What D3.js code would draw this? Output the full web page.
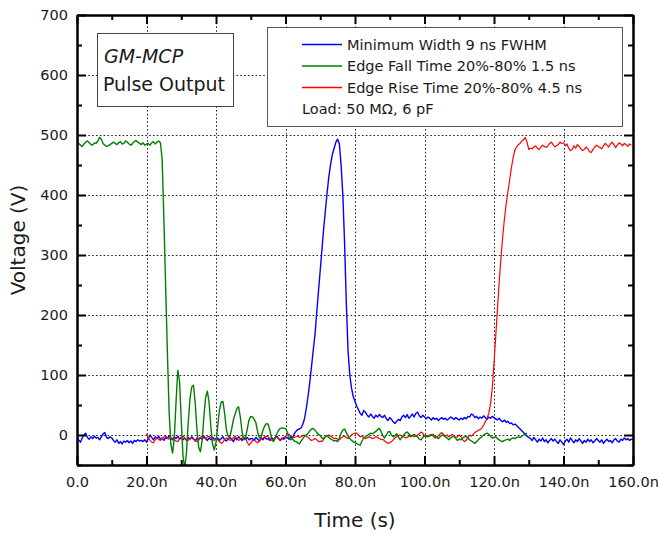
<!DOCTYPE html>
<html>
<head>
<meta charset="utf-8">
<script src="https://cdn.jsdelivr.net/npm/d3@7"></script>
<style>
  html, body { margin: 0; padding: 0; background: #fff; }
  svg { display: block; }
  text { font-family: "DejaVu Sans", Verdana, sans-serif; fill: #1a1a1a; }
</style>
</head>
<body>
<svg id="chart" width="658" height="534"></svg>
<script>
// ---------------- DATA ----------------
// Sample interval of the scope traces: 0.5 ns. Each row = one 10 ns block
// (first row includes its start sample, following rows start at +0.5 ns).
const sampleStepNs = 0.5;

const blueStartNs = 0;
const blueRows = [
  [-3,-8,-12,-5,0,3,-4,-7,-3,-6,-2,-5,-4,-8,-3,2,4,-4,-6,-3,-5],
  [-9,-12,-8,-14,-11,-15,-10,-12,-9,-13,-10,-14,-9,-11,-8,-10,-9,-11,-8,-12],
  [-6,0,-4,-8,-3,-6,-2,-7,-5,-9,-4,-6,-1,-5,-8,-3,-6,-2,-7,-4],
  [-8,-5,-9,-4,-7,-3,-6,-10,-5,-8,-4,-7,-2,-6,-9,-5,-8,-4,-6,-7],
  [-5,-9,-6,-3,-8,-10,-6,-4,-7,-11,-5,-8,-3,-6,-9,-5,-7,-4,-8,-6],
  [-6,-9,-4,-7,-10,-5,-8,-3,-7,-6,-9,-4,-8,-5,-2,-6,-9,-5,-7,-4],
  [-4,-7,-3,-5,2,6,9,10,12,18,28,45,65,88,115,142,168,205,240,275],
  [310,345,375,405,432,452,468,478,488,493,485,450,400,320,220,140,100,78,64,56],
  [48,42,36,33,41,38,33,30,35,31,28,33,30,34,31,29,33,27,24,29],
  [26,22,19,23,26,24,30,33,29,34,28,31,35,30,36,38,32,29,33,30],
  [27,30,28,25,29,26,28,24,27,29,26,28,25,27,30,28,26,29,27,25],
  [28,26,29,27,31,30,35,33,29,31,27,30,28,32,29,26,30,28,31,29],
  [27,25,28,24,22,25,21,23,19,20,17,18,16,13,10,7,4,1,-2,-4],
  [-6,-9,-4,-8,-12,-7,-10,-5,-11,-8,-13,-9,-6,-10,-7,-11,-14,-8,-12,-16],
  [-10,-7,-12,-5,-9,-13,-8,-11,-6,-10,-14,-9,-12,-7,-11,-8,-13,-10,-6,-9],
  [-12,-8,-14,-10,-7,-11,-9,-13,-8,-6,-10,-12,-7,-9,-5,-8,-6,-9,-7,-8]
];

const greenStartNs = 0;
const greenRows = [
  [492,486,483,481,485,488,490,487,484,483,487,486,490,496,493,486,483,481,482,484,486],
  [488,486,484,487,489,485,486,490,488,485,483,486,489,491,488,486,484,487,483,485],
  [486,483,487,489,485,488,490,487,460,360,250,140,40,-15,-30,-5,55,108,90,25],
  [-35,-55,-30,20,60,80,83,55,10,-20,-28,-10,30,62,73,55,15,-15,-25,-12],
  [15,42,55,56,35,8,-2,-3,10,25,35,44,47,30,5,-8,-5,10,25,31],
  [30,26,20,5,-5,-3,8,15,19,18,8,-5,-11,-6,2,8,11,12,11,11],
  [5,-3,-8,-6,-10,-11,-13,-15,-10,-6,-2,0,3,7,10,11,8,4,1,-1],
  [-5,-6,-3,-1,-4,-7,-8,-10,-9,-11,-5,3,8,10,4,-2,-6,-9,-11,-13],
  [-14,-16,-17,-10,-5,-3,-1,1,3,2,4,6,9,11,6,-1,-5,0,5,6],
  [0,-3,-1,2,-3,-8,-4,0,3,5,2,-3,-1,1,-1,-3,-7,-8,-4,-2],
  [-1,-3,-2,0,1,-2,-4,-6,-3,0,-1,-3,-5,-8,-5,-3,-2,-6,-9,-7],
  [-8,-5,-3,-2,-5,-8,-10,-12,-14,-11,-8,-5,-3,0,2,3,1,-2,-5,-4],
  [-3,-6,-8,-10,-11,-9,-8,-7,-9,-6,-5,-6,-4,-3,-4,-2,0,2,3]
];

const redStartNs = 20;
const redRows = [
  [2,-4,-9,-12,-13,-8,-5,-7,-9,-6,-3,-2,-5,-7,-4,-6,-8,-10,-11,-7,-4],
  [-2,-5,-8,-9,-6,-5,-7,-9,-11,-8,-4,-2,-5,-6,-3,-2,-4,-7,-9,-6],
  [-8,-11,-14,-12,-7,-5,-6,-9,-8,-4,-2,-6,-9,-7,-5,-3,-6,-12,-17,-14],
  [-9,-8,-11,-13,-10,-7,-5,-4,-2,-3,-6,-9,-7,-5,-3,-6,-9,-7,-4,-2],
  [0,1,-1,-3,-4,-3,-2,-4,-3,-1,0,-2,-4,-7,-9,-8,-6,-8,-11,-10],
  [-11,-7,-3,-1,0,-2,-4,-6,-5,-7,-8,-5,-3,-2,-4,-6,-3,0,2,3],
  [3,0,-3,-2,-4,-6,-5,-3,-4,-6,-5,-3,-4,-6,-8,-7,-10,-12,-14,-13],
  [-11,-8,-5,-3,-1,0,-2,-3,-5,-4,-2,0,-1,-3,-2,0,2,5,3,-1],
  [-3,-2,0,1,-2,-5,-4,-1,2,4,1,-2,0,-3,-1,1,-2,-4,-3,0],
  [-3,-8,-11,-9,-4,0,-2,1,4,6,8,9,12,16,22,28,36,52,78,120],
  [165,210,255,295,330,360,385,405,425,445,462,475,480,484,486,490,492,496,488,476],
  [478,477,480,482,478,476,480,483,481,479,482,486,488,484,480,482,484,488,486,487],
  [482,485,478,474,476,482,478,484,481,477,474,476,480,477,472,471,476,480,483,481],
  [479,477,482,486,483,480,485,488,484,479,483,487,485,482,486,484,481,485,483]
];

const seriesNames = ["Minimum Width 9 ns FWHM", "Edge Fall Time 20%-80% 1.5 ns", "Edge Rise Time 20%-80% 4.5 ns"];
const seriesColors = ["#0000ff", "#008000", "#ff0000"];
const loadNote = "Load: 50 M\u03A9, 6 pF";
const boxTitle = "GM-MCP";
const boxSubtitle = "Pulse Output";

const xMajorTicks = [0, 20, 40, 60, 80, 100, 120, 140, 160];
const xTickLabels = ["0.0", "20.0n", "40.0n", "60.0n", "80.0n", "100.0n", "120.0n", "140.0n", "160.0n"];
const xMinorTicks = [10, 30, 50, 70, 90, 110, 130, 150];
const yMajorTicks = [0, 100, 200, 300, 400, 500, 600, 700];
const yMinorTicks = [-50, 50, 150, 250, 350, 450, 550, 650];
const xGrid = [20, 40, 60, 80, 100, 120, 140];
const yGrid = [0, 100, 200, 300, 400, 500, 600];
const xTitle = "Time (s)";
const yTitle = "Voltage (V)";

// ---------------- BUILD ----------------
function buildTrace(startNs, rows) {
  const pts = [];
  rows.forEach((row, k) => {
    const rowStart = k === 0 ? startNs : startNs + 10 * k + sampleStepNs;
    row.forEach((v, i) => pts.push([rowStart + i * sampleStepNs, v]));
  });
  return pts;
}
const blue = buildTrace(blueStartNs, blueRows);
const green = buildTrace(greenStartNs, greenRows);
const red = buildTrace(redStartNs, redRows);

const svg = d3.select("#chart");
const L = 77, R = 633, T = 15, B = 465;
const x = d3.scaleLinear().domain([0, 160]).range([L, R]);
const y = d3.scaleLinear().domain([-50, 700]).range([B, T]);

// grid
const grid = svg.append("g").attr("stroke", "#222").attr("stroke-width", 1).attr("stroke-dasharray", "1.6,2.2");
grid.selectAll("line.gy").data(yGrid).join("line")
  .attr("x1", L).attr("x2", R)
  .attr("y1", d => Math.round(y(d)) + 0.5).attr("y2", d => Math.round(y(d)) + 0.5);
grid.selectAll("line.gx").data(xGrid).join("line")
  .attr("y1", T).attr("y2", B)
  .attr("x1", d => Math.round(x(d)) + 0.5).attr("x2", d => Math.round(x(d)) + 0.5);

// data
svg.append("defs").append("clipPath").attr("id", "plotclip")
  .append("rect").attr("x", L).attr("y", T).attr("width", R - L).attr("height", B - T);
const line = d3.line().x(d => x(d[0])).y(d => y(d[1]));
const gData = svg.append("g").attr("clip-path", "url(#plotclip)");
[[blue, seriesColors[0], 1.4], [red, seriesColors[2], 1.2], [green, seriesColors[1], 1.4]].forEach(([pts, c, w]) => {
  gData.append("path").datum(pts).attr("d", line)
    .attr("fill", "none").attr("stroke", c).attr("stroke-width", w).attr("stroke-linejoin", "round");
});

// axes
function styleAxis(g) {
  g.selectAll(".domain").attr("stroke", "#000").attr("stroke-width", 2);
  g.selectAll(".tick line").attr("stroke", "#000").attr("stroke-width", 2);
  g.selectAll("text").attr("font-size", "14.5px").attr("fill", "#1a1a1a")
    .attr("font-family", "'DejaVu Sans', Verdana, sans-serif");
}
svg.append("g").attr("transform", `translate(${L},0)`)
  .call(d3.axisLeft(y).tickValues(yMajorTicks).tickSize(-9).tickSizeOuter(0).tickPadding(9).tickFormat(d3.format("d")))
  .call(styleAxis);
svg.append("g").attr("transform", `translate(${L},0)`)
  .call(d3.axisLeft(y).tickValues(yMinorTicks).tickSize(-5).tickSizeOuter(0).tickFormat(""))
  .call(styleAxis);
svg.append("g").attr("transform", `translate(${R},0)`)
  .call(d3.axisRight(y).tickValues(yMajorTicks).tickSize(-9).tickSizeOuter(0).tickFormat(""))
  .call(styleAxis);
svg.append("g").attr("transform", `translate(${R},0)`)
  .call(d3.axisRight(y).tickValues(yMinorTicks).tickSize(-5).tickSizeOuter(0).tickFormat(""))
  .call(styleAxis);
svg.append("g").attr("transform", `translate(0,${B})`)
  .call(d3.axisBottom(x).tickValues(xMajorTicks).tickSize(-9).tickSizeOuter(0).tickPadding(12)
    .tickFormat((d, i) => xTickLabels[i]))
  .call(styleAxis);
svg.append("g").attr("transform", `translate(0,${B})`)
  .call(d3.axisBottom(x).tickValues(xMinorTicks).tickSize(-5).tickSizeOuter(0).tickFormat(""))
  .call(styleAxis);
svg.append("g").attr("transform", `translate(0,${T})`)
  .call(d3.axisTop(x).tickValues(xMajorTicks).tickSize(-9).tickSizeOuter(0).tickFormat(""))
  .call(styleAxis);
svg.append("g").attr("transform", `translate(0,${T})`)
  .call(d3.axisTop(x).tickValues(xMinorTicks).tickSize(-5).tickSizeOuter(0).tickFormat(""))
  .call(styleAxis);

// axis titles
svg.append("text").attr("x", (L + R) / 2).attr("y", 527).attr("text-anchor", "middle")
  .attr("font-size", "20px").text(xTitle);
svg.append("text").attr("transform", `translate(25,${(T + B) / 2}) rotate(-90)`)
  .attr("text-anchor", "middle").attr("font-size", "20px").text(yTitle);

// GM-MCP box
svg.append("rect").attr("x", 97.5).attr("y", 33.5).attr("width", 136).attr("height", 73)
  .attr("fill", "#fff").attr("stroke", "#444").attr("stroke-width", 1);
svg.append("text").attr("x", 104).attr("y", 63).attr("font-size", "19px").attr("font-style", "italic").text(boxTitle);
svg.append("text").attr("x", 103).attr("y", 91).attr("font-size", "19px").text(boxSubtitle);

// legend
svg.append("rect").attr("x", 267.5).attr("y", 27.5).attr("width", 355).attr("height", 99)
  .attr("fill", "#fff").attr("stroke", "#555").attr("stroke-width", 1);
const legY = [44.5, 66, 87.5];
const leg = svg.append("g");
seriesNames.forEach((name, i) => {
  leg.append("line").attr("x1", 302).attr("x2", 342).attr("y1", legY[i]).attr("y2", legY[i])
    .attr("stroke", seriesColors[i]).attr("stroke-width", 1.3);
  leg.append("text").attr("x", 347).attr("y", legY[i]).attr("dy", "0.36em")
    .attr("font-size", "14.5px").text(name);
});
leg.append("text").attr("x", 302).attr("y", 109).attr("dy", "0.36em").attr("font-size", "14.5px").text(loadNote);
</script>
</body>
</html>
